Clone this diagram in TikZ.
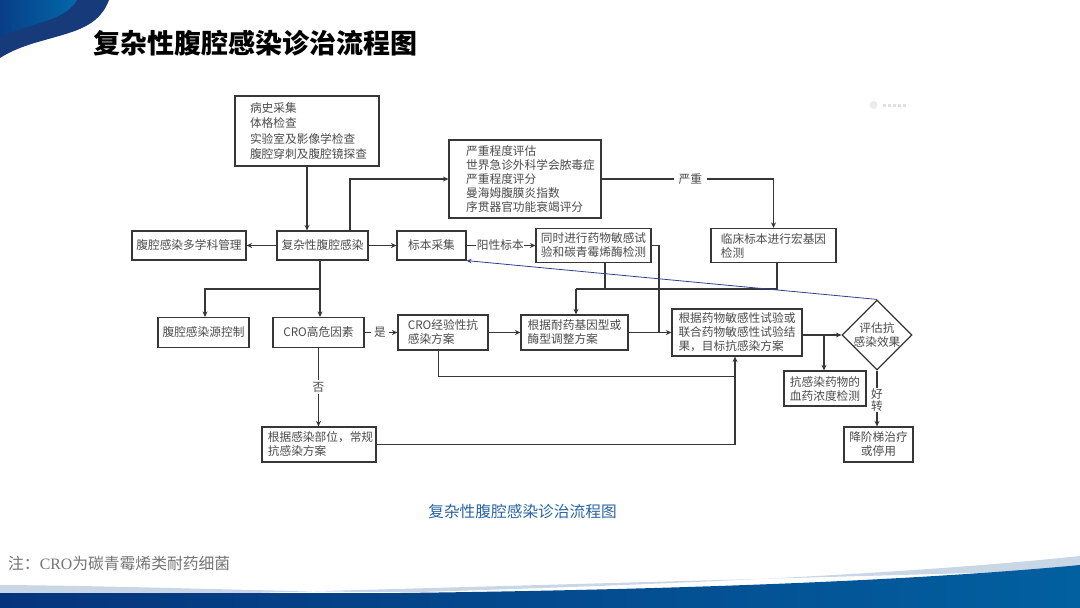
\documentclass[tikz,border=0pt]{standalone}
\usepackage{fontspec}
\setmainfont{Noto Sans CJK SC}
\newfontfamily\latinserif{Liberation Serif}
\usetikzlibrary{arrows.meta,shapes.geometric}
\definecolor{ink}{RGB}{55,55,55}
\definecolor{txtgray}{RGB}{75,75,75}
\definecolor{navy}{RGB}{22,58,122}
\definecolor{bandleft}{RGB}{6,52,124}
\definecolor{bandright}{RGB}{2,96,160}
\definecolor{bandlight}{RGB}{200,214,230}
\definecolor{wingleft}{RGB}{8,62,135}
\definecolor{wingright}{RGB}{2,104,168}
\definecolor{capblue}{RGB}{40,100,165}
\definecolor{backline}{RGB}{50,65,135}
\newcommand{\indA}{\hspace*{11pt}}
\newcommand{\indB}{\hspace*{3pt}}
\tikzset{
  x=1pt,y=-1pt,
  bx/.style={draw=ink,line width=1.2pt,fill=white,inner sep=0pt,align=left,text=txtgray,
    font=\fontsize{11.7}{14}\selectfont},
  cbx/.style={bx,align=center},
  lbl/.style={fill=white,inner sep=0.5pt,text=txtgray,font=\fontsize{11.7}{13}\selectfont},
  ar/.style={draw=ink,line width=1.2pt,-{Stealth[length=5.5pt,width=5pt]}},
  ln/.style={draw=ink,line width=1.2pt},
  backar/.style={draw=backline,line width=0.8pt,-{Stealth[length=5pt,width=4.5pt]}},
  dia/.style={diamond,draw=ink,line width=1.2pt,fill=white,aspect=1,inner sep=0pt,minimum size=70pt},
}
\begin{document}
\begin{tikzpicture}
\useasboundingbox (0,0) rectangle (1080,608);
% top-left wing
\fill[navy] (0,0) -- (109,0) .. controls (103,16) and (92,25) .. (72,32)
  .. controls (45,41) and (22,44) .. (0,58) -- cycle;
\shade[left color=wingleft,right color=wingright] (0,0) -- (77,0)
  .. controls (68,15) and (50,20) .. (30,26) .. controls (18,30) and (8,33) .. (0,37) -- cycle;
% bottom band
\fill[bandlight] (0,585) .. controls (150,586) and (300,593) .. (420,592)
  .. controls (650,585) and (900,575) .. (1080,556) -- (1080,570) -- (0,600) -- cycle;
\shade[left color=bandleft,right color=bandright] (0,593) -- (400,593)
  .. controls (650,590) and (900,582) .. (1080,565) -- (1080,608) -- (0,608) -- cycle;
% faint logo
\fill[black!8] (873.5,105) circle (4);
\foreach \k in {884,889,894,899,904}{\fill[black!12] (\k-1.5,103.5) rectangle (\k+1.5,106.5);}
% title, caption, note
\node[anchor=west,inner sep=0pt,font=\fontsize{27}{30}\selectfont\bfseries,text=black] (title) at (93.5,43) {复杂性腹腔感染诊治流程图};
\node[anchor=center,inner sep=0pt,font=\fontsize{15.7}{18}\selectfont,text=capblue] (cap) at (522.5,512) {复杂性腹腔感染诊治流程图};
\node[anchor=west,inner sep=0pt,font=\fontsize{15.8}{18}\selectfont,text=black!55] (note) at (8,563) {注：{\latinserif CRO}为碳青霉烯类耐药细菌};
% boxes
\node[bx,minimum width=144pt,minimum height=70pt,font=\fontsize{11.7}{15.3}\selectfont] (hist) at (307,131)
  {\indB 病史采集\\\indB 体格检查\\\indB 实验室及影像学检查\\\indB 腹腔穿刺及腹腔镜探查};
\node[cbx,minimum width=91pt,minimum height=29pt] (cx) at (322.5,245.5) {复杂性腹腔感染};
\node[cbx,minimum width=114pt,minimum height=29pt] (ms) at (189,245.5) {腹腔感染多学科管理};
\node[cbx,minimum width=69pt,minimum height=29pt] (bb) at (431.5,245.5) {标本采集};
\node[bx,minimum width=152pt,minimum height=78pt,font=\fontsize{11.7}{13.9}\selectfont] (yz) at (525,179)
  {\indA 严重程度评估\\\indA 世界急诊外科学会脓毒症\\\indA 严重程度评分\\\indA 曼海姆腹膜炎指数\\\indA 序贯器官功能衰竭评分};
\node[bx,minimum width=115pt,minimum height=34pt] (ts) at (593.5,245.5) {同时进行药物敏感试\\验和碳青霉烯酶检测};
\node[bx,minimum width=125pt,minimum height=34pt] (lc) at (773.5,245.5) {临床标本进行宏基因\\检测};
\node[cbx,minimum width=91pt,minimum height=30pt] (sc) at (203.5,332.5) {腹腔感染源控制};
\node[cbx,minimum width=91pt,minimum height=30pt] (cr) at (318.5,332.5) {CRO高危因素};
\node[bx,minimum width=90pt,minimum height=35pt] (cy) at (443,332.5) {CRO经验性抗\\感染方案};
\node[bx,minimum width=107pt,minimum height=35pt] (nh) at (574.5,332.5) {根据耐药基因型或\\酶型调整方案};
\node[bx,minimum width=130pt,minimum height=47pt] (gj) at (737,332.5) {根据药物敏感性试验或\\联合药物敏感性试验结\\果，目标抗感染方案};
\node[dia] (di) at (877,335) {};
\node[inner sep=0pt,align=center,text=txtgray,font=\fontsize{11.7}{14}\selectfont] (dit) at (di.center) {评估抗\\感染效果};
\node[cbx,minimum width=82pt,minimum height=35pt] (xy) at (825,388.5) {抗感染药物的\\血药浓度检测};
\node[bx,minimum width=114pt,minimum height=35pt] (rg) at (319,444.5) {\indB 根据感染部位，常规\\\indB 抗感染方案};
\node[cbx,minimum width=69pt,minimum height=35pt] (jj) at (878.5,444.5) {降阶梯治疗\\或停用};
% junctions
\coordinate (jdown) at (320,289);
\coordinate (jcol) at (576,289);
\coordinate (jts) at (605,289);
\coordinate (jlc) at (777,289);
\coordinate (jnh) at (659,332.5);
\coordinate (jcyl) at (438.5,376.7);
\coordinate (jcyr) at (735,376.7);
\coordinate (jxy) at (824,335);
% connectors
\draw[ar] (hist.south) -- (hist.south |- cx.north);
\draw[ar] ([xshift=27.5pt]cx.north) |- (yz.west);
\draw[ar] (cx.west) -- (ms.east);
\draw[ar] (cx.east) -- (bb.west);
\draw[ar] (bb.east) -- node[lbl,pos=.49] (lpos) {阳性标本} (ts.west);
\draw[ar] (yz.east) -| node[lbl,pos=.258,inner xsep=5pt] (lsev) {严重} (lc.north);
\draw[ln] (jts |- ts.south) -- (jts);
\draw[ln] (jlc |- lc.south) -- (jlc) -- (jcol);
\draw[ar] (jcol) -- (jcol |- nh.north);
\draw[ln] (ts.east) -| (jnh);
\draw[ln] (jdown |- cx.south) -- (jdown);
\draw[ar] (jdown) -- (jdown |- cr.north);
\draw[ar] (jdown) -| ([xshift=1.5pt]sc.north);
\draw[ar] (cr.east) -- node[lbl,pos=.47,inner xsep=3pt] (lyes) {是} (cy.west);
\draw[ar] (cy.east) -- (nh.west);
\draw[ar] (nh.east) -- (gj.west);
\draw[ar] (cr.south) -- node[lbl,pos=.5,inner ysep=2pt] (lno) {否} (cr.south |- rg.north);
\draw[ln] (jcyl |- cy.south) -- (jcyl) -- (jcyr);
\draw[ar] (rg.east) -| ([xshift=-2pt]gj.south);
\draw[ar] (gj.east |- di.west) -- (di.west);
\draw[ar] (jxy) -- (jxy |- xy.north);
\draw[ar] (di.south) -- node[lbl,pos=.53,align=center,font=\fontsize{11.7}{12.5}\selectfont] (lgood) {好\\转} (di.south |- jj.north);
\draw[backar] (di.north) -- (bb.south east);
\end{tikzpicture}
\end{document}
